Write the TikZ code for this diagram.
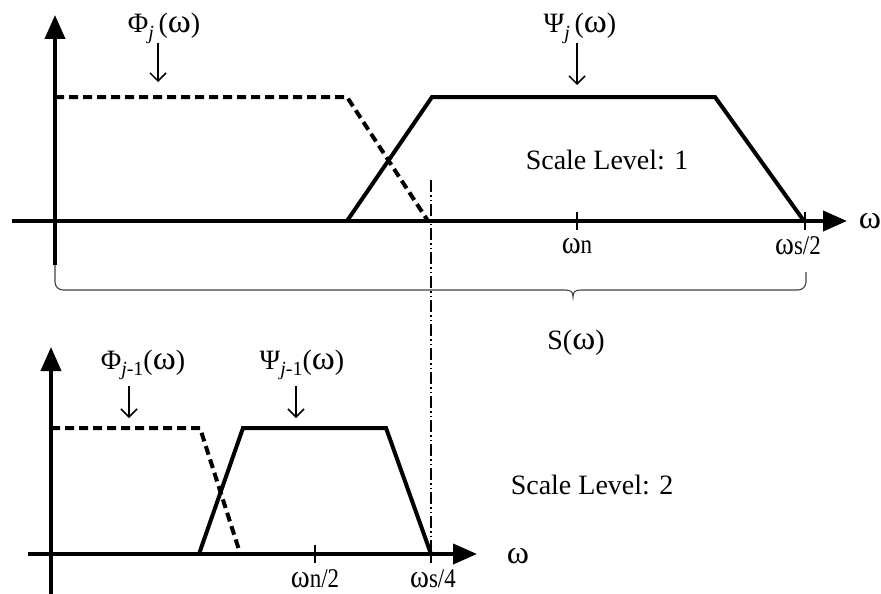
\documentclass[tikz,border=0pt]{standalone}
\usepackage{fontspec}
\setmainfont{Liberation Serif}
\usetikzlibrary{arrows.meta}
\newcommand{\om}{\scalebox{1.25}[1.2]{ω}}
\begin{document}
\begin{tikzpicture}[x=1pt,y=-1pt,
  axis/.style={line width=4pt,-{Triangle[length=24pt,width=20pt]}},
  curve/.style={line width=4pt,line join=miter},
  dashcurve/.style={line width=4pt,dash pattern=on 9pt off 5pt},
  lblarrow/.style={line width=1.5pt,-{Straight Barb[length=8pt,width=16pt]}},
  tick/.style={line width=2pt},
  lbl/.style={font=\fontsize{28}{30}\selectfont,inner sep=0pt},
  axlbl/.style={font=\fontsize{27}{28}\selectfont,inner sep=0pt},
  dashdot/.style={line width=1.8pt,dash pattern=on 12pt off 3pt on 1.5pt off 3pt on 1.5pt off 3pt}]
\useasboundingbox (0,0) rectangle (881,594);
% ---- top plot ----
\coordinate (tO) at (55,221);
\coordinate (tYb) at (55,265);
\coordinate (tYt) at (55,15);
\coordinate (tXl) at (12,221);
\coordinate (tXr) at (847,221);
\draw[line width=4pt] (tYb) -- (tO);
\draw[axis] (tO) -- (tYt);
\draw[axis] (tXl) -- (tXr);
\node[axlbl] (tw) at (870,221) {\om};
% phi_j dashed
\coordinate (p1) at (55,97);
\coordinate (p2) at (347,97);
\coordinate (p3) at (428,221);
\draw[dashcurve] (p1) -- (p2) -- (p3);
% psi_j solid
\coordinate (q1) at (347,221);
\coordinate (q2) at (432,97);
\coordinate (q3) at (715,97);
\coordinate (q4) at (804,221);
\draw[curve] (q1) -- (q2) -- (q3) -- (q4);
% ticks
\draw[tick] (577,212) -- (577,230);
\draw[tick] (805,212) -- (805,230);
\node[axlbl] (wn) at (577,246) {\scalebox{0.85}[1]{\om n}};
\node[axlbl] (ws2) at (798,246) {\scalebox{0.85}[1]{\om s/2}};
% labels
\node[lbl] (phij) at (164,28) {Φ\textit{\raisebox{-0.25em}{\fontsize{20}{20}\selectfont j}}\,(\om)};
\node[lbl] (psij) at (580,28) {Ψ\textit{\raisebox{-0.25em}{\fontsize{20}{20}\selectfont j}}\,(\om)};
\coordinate (phijt) at (158,82);
\coordinate (psijt) at (577,85);
\draw[lblarrow] (158,43) -- (phijt);
\draw[lblarrow] (577,43) -- (psijt);
\node[lbl] (sl1) at (607,160) {Scale Level: 1};
% brace
\draw[line width=1.1pt,color=black!75]
  (tYb) -- (55,282) arc[start angle=180,end angle=90,radius=8] -- (565,290)
  .. controls (571,290) and (573,292) .. (573,297)
  .. controls (573,292) and (575,290) .. (581,290)
  -- (798,290) arc[start angle=90,end angle=0,radius=8] -- (806,272);
\node[lbl] (sw) at (576,343) {S(\om)};
% dash-dot vertical line
\coordinate (dd1) at (431,180);
\coordinate (dd2) at (431,553);
\draw[dashdot] (dd1) -- (dd2);
% ---- bottom plot ----
\coordinate (bO) at (51,554);
\coordinate (bYb) at (51,594);
\coordinate (bYt) at (51,347);
\coordinate (bXl) at (28,554);
\coordinate (bXr) at (477,554);
\draw[line width=4pt] (bYb) -- (bO);
\draw[axis] (bO) -- (bYt);
\draw[axis] (bXl) -- (bXr);
\node[axlbl] (bw) at (518,556) {\om};
\coordinate (r1) at (51,428);
\coordinate (r2) at (200,428);
\coordinate (r3) at (240,553);
\draw[dashcurve] (r1) -- (r2) -- (r3);
\coordinate (s1) at (199,554);
\coordinate (s2) at (243,428);
\coordinate (s3) at (386,428);
\coordinate (s4) at (431,554);
\draw[curve] (s1) -- (s2) -- (s3) -- (s4);
\draw[tick] (315,545) -- (315,563);
\draw[tick] (431,545) -- (431,563);
\node[axlbl] (wn2) at (315,579) {\scalebox{0.85}[1]{\om n/2}};
\node[axlbl] (ws4) at (433,579) {\scalebox{0.85}[1]{\om s/4}};
\node[lbl] (phij1) at (143,365) {Φ\raisebox{-0.2em}{\fontsize{20}{20}\selectfont\textit{j}-1}(\om)};
\node[lbl] (psij1) at (302,365) {Ψ\raisebox{-0.2em}{\fontsize{20}{20}\selectfont\textit{j}-1}(\om)};
\coordinate (phij1t) at (129,418);
\coordinate (psij1t) at (296,418);
\draw[lblarrow] (129,386) -- (phij1t);
\draw[lblarrow] (296,386) -- (psij1t);
\node[lbl] (sl2) at (592,485) {Scale Level: 2};
\end{tikzpicture}
\end{document}
